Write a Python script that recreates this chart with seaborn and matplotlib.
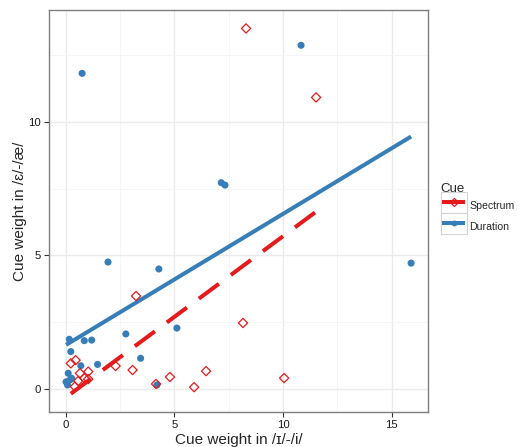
import numpy as np
import pandas as pd
import matplotlib
matplotlib.use('Agg')
import matplotlib.pyplot as plt
import seaborn as sns
from matplotlib.lines import Line2D
from matplotlib.patches import Rectangle
from matplotlib.legend_handler import HandlerLine2D
from matplotlib.ticker import MultipleLocator

# cue weights
spectrum_x = [8.30, 11.52, 3.24, 8.16, 4.80, 5.91, 6.46, 10.05, 2.30, 3.08, 4.16,
              0.24, 0.46, 0.66, 1.04, 0.86, 0.58, 1.04, 0.43]
spectrum_y = [13.49, 10.91, 3.48, 2.47, 0.45, 0.07, 0.67, 0.41, 0.86, 0.71, 0.19,
              0.96, 1.08, 0.59, 0.65, 0.40, 0.30, 0.37, 0.09]

duration_x = [0.76, 10.83, 15.89, 7.16, 7.33, 1.95, 4.29, 2.77, 5.12, 3.45, 4.20,
              0.17, 0.86, 1.20, 0.24, 1.47, 0.70, 0.12, 0.28, 0.09, 0.02, 0.20]
duration_y = [11.81, 12.86, 4.71, 7.72, 7.63, 4.75, 4.49, 2.06, 2.28, 1.15, 0.15,
              1.86, 1.81, 1.83, 1.40, 0.92, 0.87, 0.59, 0.40, 0.15, 0.27, 0.34]

cue_labels = ['Spectrum', 'Duration']
cue_colors = {'Spectrum': '#E41A1C', 'Duration': '#377EB8'}

spec = pd.DataFrame({'x': spectrum_x, 'y': spectrum_y})
dur = pd.DataFrame({'x': duration_x, 'y': duration_y})


class BoxedKey(HandlerLine2D):
    '''legend key with a grey box around it, ggplot style'''
    def create_artists(self, legend, orig_handle, xdescent, ydescent,
                       width, height, fontsize, trans):
        # centre the box on the key line
        box = Rectangle((-xdescent, -ydescent / 2.), width, height, facecolor='white',
                        edgecolor='#D4D4D4', lw=0.8, transform=trans)
        arts = super().create_artists(legend, orig_handle, xdescent, ydescent,
                                      width, height, fontsize, trans)
        # keep the key line a little inside the box
        inset = 0.15 * fontsize
        legline = arts[0]
        n = len(legline.get_ydata())
        legline.set_xdata(np.linspace(-xdescent + inset, -xdescent + width - inset, n))
        return [box] + list(arts)


sns.set_style('white')
plt.rcParams['font.family'] = ['Liberation Sans', 'DejaVu Sans']

fig = plt.figure(figsize=(5.21, 4.47), dpi=100)
ax = fig.add_axes([0.0946, 0.0783, 0.727, 0.8993])

# regression lines (lm fit, no band)
sns.regplot(x='x', y='y', data=dur, ax=ax, ci=None, scatter=False, truncate=True,
            color=cue_colors['Duration'], line_kws={'lw': 2.9, 'solid_capstyle': 'butt', 'zorder': 3})
sns.regplot(x='x', y='y', data=spec, ax=ax, ci=None, scatter=False, truncate=True,
            color=cue_colors['Spectrum'],
            line_kws={'lw': 2.9, 'dashes': (6.2, 3.7), 'dash_capstyle': 'butt', 'zorder': 3})

# points
sns.scatterplot(x='x', y='y', data=dur, ax=ax, color=cue_colors['Duration'], s=26,
                edgecolor='none', zorder=4)
sns.scatterplot(x='x', y='y', data=spec, ax=ax, marker='D', s=22, facecolor='none',
                edgecolor=cue_colors['Spectrum'], linewidth=0.9, zorder=5)

ax.set_xlim(-0.75, 16.67)
ax.set_ylim(-0.86, 14.18)
ax.xaxis.set_major_locator(MultipleLocator(5))
ax.yaxis.set_major_locator(MultipleLocator(5))
ax.xaxis.set_minor_locator(MultipleLocator(2.5))
ax.yaxis.set_minor_locator(MultipleLocator(2.5))
ax.grid(which='major', color='#EBEBEB', lw=1.0)
ax.grid(which='minor', color='#F5F5F5', lw=0.6)
ax.set_axisbelow(True)
for sp in ax.spines.values():
    sp.set_color('#7F7F7F')
    sp.set_linewidth(1.0)
ax.tick_params(which='major', direction='out', length=3.5, width=0.8, color='#333333',
               labelsize=8.2, labelcolor='#1A1A1A', left=True, bottom=True, pad=2.5)
ax.tick_params(which='minor', length=0)

ax.set_xlabel('Cue weight in /ɪ/-/i/', fontsize=11, labelpad=2)
ax.set_ylabel('Cue weight in /ɛ/-/æ/', fontsize=11, labelpad=0.8)

# legend outside on the right
handles = [
    Line2D([], [], color=cue_colors['Spectrum'], lw=2.9, marker='D', markersize=4.2,
           markerfacecolor='none', markeredgewidth=0.9, solid_capstyle='butt'),
    Line2D([], [], color=cue_colors['Duration'], lw=2.9, marker='o', markersize=4.2,
           markeredgecolor='none', solid_capstyle='butt'),
]
leg = fig.legend(handles, cue_labels, title='Cue', loc='upper left',
                 bbox_to_anchor=(0.846, 0.590), frameon=False, fontsize=7.6,
                 title_fontsize=9.5, handlelength=2.45, handleheight=2.68,
                 handletextpad=0.25, labelspacing=0.0, borderaxespad=0, borderpad=0,
                 handler_map={Line2D: BoxedKey()})
leg._legend_box.align = 'left'

fig.savefig('out.png', dpi=100)
